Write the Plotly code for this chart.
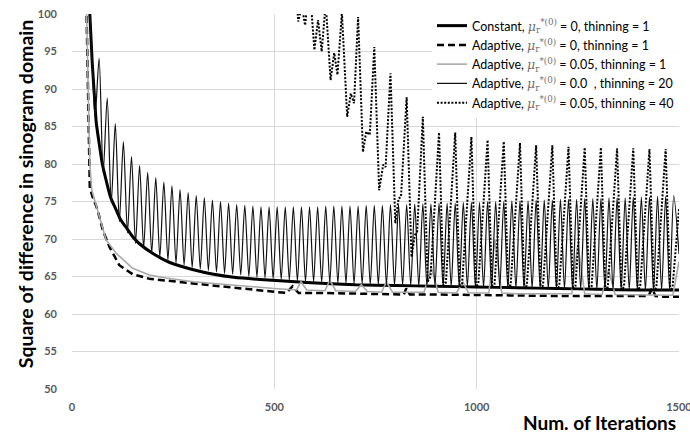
import plotly.graph_objects as go

# ---------------- data ----------------
const_iter = [40, 44, 50, 55, 60, 67, 75, 84, 95, 109, 120, 133, 150, 166, 199, 240,
              300, 350, 400, 465, 580, 700, 800, 900, 1000, 1100, 1200, 1300, 1400, 1500]
const_val = [103, 100, 93.5, 89.4, 85.5, 82.8, 80.0, 77.9, 75.6, 73.9, 72.6, 71.6, 70.3,
             69.4, 68.1, 66.9, 65.9, 65.3, 64.9, 64.6, 64.2, 63.9, 63.8, 63.7, 63.6, 63.5,
             63.4, 63.3, 63.2, 63.2]

adap0_iter = [30, 36, 39, 41, 44, 51, 63, 76, 92, 117, 150, 191, 240, 313, 420, 500, 530,
              545, 560, 620, 700, 800, 820, 826, 835, 900, 1000, 1100, 1200, 1300, 1400,
              1425, 1433, 1442, 1460, 1500]
adap0_val = [110, 100, 91.6, 82.8, 76.8, 75.6, 73.9, 71.2, 69.0, 66.5, 65.3, 64.7, 64.4,
             64.0, 63.4, 63.0, 62.8, 63.7, 62.8, 62.8, 62.7, 62.6, 62.6, 63.4, 62.6, 62.6,
             62.5, 62.5, 62.4, 62.4, 62.4, 62.4, 63.4, 62.4, 62.3, 62.3]

adap05_iter = [30, 36, 40, 44, 49, 67, 84, 109, 150, 191, 232, 300, 400, 500, 555, 566,
               580, 625, 637, 652, 700, 715, 730, 765, 777, 792, 870, 888, 905, 950, 966,
               980, 1030, 1045, 1062, 1100, 1200, 1235, 1250, 1267, 1310, 1326, 1342,
               1400, 1470, 1485, 1500]
adap05_val = [110, 100, 90, 80, 76.5, 73.0, 69.9, 68.1, 66.1, 65.2, 64.8, 64.3, 63.8,
              63.4, 63.2, 64.3, 63.2, 63.1, 64.5, 63.1, 63.0, 63.9, 63.0, 62.9, 64.3, 62.9,
              62.9, 66.2, 62.9, 62.8, 64.3, 62.8, 62.8, 69.9, 62.8, 62.7, 62.7, 62.7, 69.3,
              62.7, 62.6, 65.9, 62.6, 62.6, 62.6, 62.5, 67.0]

# thinning = 20: troughs every 20 iterations starting at 57, peaks starting at 67
thin20_start_iter = [40, 44, 50]
thin20_start_val = [110, 100.5, 93.5]
thin20_trough_val = [86.3, 78.8, 74.8, 72.3, 70.8, 69.4, 68.8, 68.1, 67.6, 67.2, 66.8,
                     66.5, 66.2, 66.0, 65.8, 65.6, 65.4, 65.3, 65.2, 65.0, 64.9, 64.8,
                     64.7, 64.6, 64.5, 64.4, 64.3, 64.3, 64.2, 64.2, 64.1, 64.1, 64.0,
                     64.0, 63.9, 63.9, 63.9, 63.8, 63.8, 63.8, 63.7, 63.7, 63.7, 63.6,
                     63.6, 63.6, 63.6, 63.5, 63.5, 63.5, 63.5, 63.4, 63.4, 63.4, 63.4,
                     63.4, 63.3, 63.3, 63.3, 63.3, 63.3, 63.3, 63.2, 63.2, 63.2, 63.2,
                     63.2, 63.2, 63.1, 63.1, 63.1, 63.1]
thin20_peak_val = [94.1, 88.8, 85.4, 83.0, 81.0, 79.8, 78.9, 78.2, 77.6, 77.1, 76.6,
                   76.2, 75.8, 75.5, 75.2, 75.0, 74.8, 74.6, 74.5, 74.4,
                   74.3, 74.3, 74.3, 74.3, 74.3, 74.3, 74.3, 74.3, 74.4, 74.4, 74.4,
                   74.4, 74.4, 74.5, 74.5,
                   74.5, 74.6, 74.6, 74.6, 74.7, 74.7, 74.7, 74.8, 74.8, 74.8, 74.9,
                   74.9, 74.9, 75.0, 75.0,
                   75.0, 75.1, 75.1, 75.1, 75.2, 75.2, 75.2, 75.3, 75.3, 75.3, 75.4,
                   75.4, 75.4, 75.5, 75.5, 75.5, 75.6, 75.6, 75.6, 75.7, 75.7, 75.8]
thin20_first_trough, thin20_first_peak, thin20_period = 57, 67, 20
thin20_end_iter, thin20_end_val = 1500, 68.0

dot40_iter = [535, 547, 559, 568, 576, 587,
              599, 608, 617, 627,
              639, 648, 656, 667,
              680, 689, 697, 707,
              719, 727, 736, 747,
              759, 769, 775, 787,
              799, 807, 813, 827,
              839, 847, 853, 867,
              879, 886, 907, 918, 924, 947, 958, 964, 987, 998, 1004, 1027,
              1038, 1044, 1067, 1078, 1084, 1107, 1118, 1124, 1147, 1158, 1164, 1187,
              1198, 1204, 1227, 1238, 1244, 1267, 1278, 1284, 1307, 1318, 1324, 1347,
              1358, 1364, 1387, 1398, 1404, 1427, 1438, 1444, 1467, 1478, 1484, 1500]
dot40_val = [112, 108, 99.0, 101.0, 98.5, 104,
             95.2, 99.2, 95.0, 101.5,
             91.2, 94.8, 91.9, 100.2,
             86.3, 89.4, 88.1, 99.6,
             81.6, 84.3, 83.9, 95.6,
             76.5, 79.9, 79.6, 92.1,
             72.1, 75.4, 75.6, 88.9,
             67.6, 70.5, 71.0, 86.3,
             64.3, 65.0, 84.2, 63.8, 64.2, 84.2, 63.6, 64.0, 83.6, 63.6, 64.0, 83.2,
             63.5, 63.9, 83.0, 63.5, 63.9, 82.8, 63.4, 63.8, 82.5, 63.4, 63.8, 82.5,
             63.3, 63.7, 82.3, 63.3, 63.7, 82.2, 63.3, 63.7, 82.2, 63.2, 63.6, 82.1,
             63.2, 63.6, 82.1, 63.2, 63.6, 82.0, 63.1, 63.5, 82.0, 63.1, 63.5, 74.0]

x_ticks = [0, 500, 1000, 1500]
y_ticks = [50, 55, 60, 65, 70, 75, 80, 85, 90, 95, 100]

MU = "<span style='color:#6f6f6f;font-family:DejaVu Serif'><i>μ</i><sub>r</sub><sup>*(0)</sup></span>"
names = [
    f"Constant, {MU} = 0, thinning = 1",
    f"Adaptive, {MU} = 0, thinning = 1",
    f"Adaptive, {MU} = 0.05, thinning = 1",
    f"Adaptive, {MU} = 0.0  , thinning = 20",
    f"Adaptive, {MU} = 0.05, thinning = 40",
]

# build the thinning=20 series from its read extremes
thin20_iter = list(thin20_start_iter)
thin20_val = list(thin20_start_val)
for k, (tv, pv) in enumerate(zip(thin20_trough_val, thin20_peak_val)):
    thin20_iter += [thin20_first_trough + k * thin20_period, thin20_first_peak + k * thin20_period]
    thin20_val += [tv, pv]
thin20_iter.append(thin20_end_iter)
thin20_val.append(thin20_end_val)

fig = go.Figure()
fig.add_trace(go.Scatter(x=const_iter, y=const_val, mode="lines", name=names[0],
                         line=dict(color="#000000", width=3, shape="spline", smoothing=0.6)))
fig.add_trace(go.Scatter(x=adap0_iter, y=adap0_val, mode="lines", name=names[1],
                         line=dict(color="#000000", width=2.5, dash="7px,4px")))
fig.add_trace(go.Scatter(x=adap05_iter, y=adap05_val, mode="lines", name=names[2],
                         line=dict(color="#a8a8a8", width=1.6)))
fig.add_trace(go.Scatter(x=thin20_iter, y=thin20_val, mode="lines", name=names[3],
                         line=dict(color="#111111", width=1.2, shape="spline", smoothing=0.8)))
fig.add_trace(go.Scatter(x=dot40_iter, y=dot40_val, mode="lines", name=names[4],
                         line=dict(color="#000000", width=2, dash="2px,1.6px")))

tickfont = dict(family="Lato", size=11, color="#595959", weight="bold")
fig.update_layout(
    width=690, height=435,
    margin=dict(l=72, r=11, t=14, b=46, autoexpand=False),
    paper_bgcolor="white", plot_bgcolor="white",
    showlegend=True,
    legend=dict(x=1.0, y=1.008, xanchor="right", yanchor="top",
                bgcolor="rgba(255,255,255,0.92)", borderwidth=0,
                font=dict(family="Lato", size=12.5, color="#000000"),
                itemwidth=30, tracegroupgap=0),
    xaxis=dict(range=[0, 1500], tickvals=x_ticks, showgrid=True, gridcolor="#d9d9d9",
               gridwidth=1, zeroline=False, showline=False, ticks="",
               tickfont=tickfont, ticklabelstandoff=10, automargin=False,
               ticklabeloverflow="allow"),
    yaxis=dict(range=[50, 100], tickvals=y_ticks, showgrid=True, gridcolor="#d9d9d9",
               gridwidth=1, zeroline=False, showline=False, ticks="",
               tickfont=tickfont, ticklabelstandoff=14, automargin=False,
               ticklabeloverflow="allow"),
    annotations=[
        dict(text="Square of difference in sinogram domain", xref="paper", yref="paper",
             x=-0.077, y=0.52, xanchor="center", yanchor="middle", textangle=-90,
             showarrow=False, font=dict(family="Lato", size=19.5, color="#000000", weight="bold")),
        dict(text="Num. of Iterations", xref="paper", yref="paper",
             x=0.998, y=-0.088, xanchor="right", yanchor="middle",
             showarrow=False, font=dict(family="Lato", size=19, color="#000000", weight="bold")),
    ],
)

fig.write_html("out.html")
